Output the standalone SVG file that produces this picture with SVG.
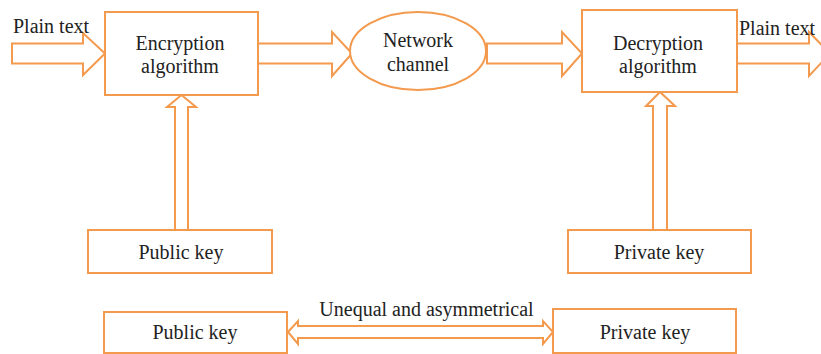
<svg xmlns="http://www.w3.org/2000/svg" width="821" height="354" viewBox="0 0 821 354">
<style>
.box{fill:#fff;stroke:#F39A4E;stroke-width:2}
.arr{fill:#fff;stroke:#F39A4E;stroke-width:2;stroke-linejoin:miter}
.t{font-family:"Liberation Serif","Times New Roman",serif;font-size:20px;fill:#222}
.m{text-anchor:middle}
</style>
<rect width="821" height="354" fill="#fff"/>
<g id="connectors">
<polygon class="arr" points="12,43.5 83,43.5 83,33 105,53.5 83,75 83,63.5 12,63.5"/>
<polygon class="arr" points="258,43.5 332,43.5 332,32 352,53.5 332,76 332,63.5 258,63.5"/>
<polygon class="arr" points="487,43.5 562,43.5 562,32 582,53.5 562,76 562,63.5 487,63.5"/>
<polygon class="arr" points="737,43.5 809,43.5 809,32 830,53.5 809,76 809,63.5 737,63.5"/>
<polygon class="arr" points="175,230 175,107 167,107 181.5,95 196,107 188,107 188,230"/>
<polygon class="arr" points="653,230 653,106 646,106 660,92 675,106 667,106 667,230"/>
<polygon class="arr" points="288,332 298,321 298,326 543,326 543,321 553,332 543,344 543,338 298,338 298,344"/>
<text class="t" x="13" y="33">Plain text</text>
<text class="t" x="739" y="35">Plain text</text>
<text class="t m" x="426.5" y="316">Unequal and asymmetrical</text>
</g>
<g id="encryption">
<rect class="box" x="105" y="12" width="153" height="83"/>
<text class="t m" x="180" y="50">Encryption</text>
<text class="t m" x="180" y="73">algorithm</text>
</g>
<g id="network">
<ellipse class="box" cx="418" cy="51" rx="68" ry="39"/>
<text class="t m" x="418" y="47">Network</text>
<text class="t m" x="418" y="71">channel</text>
</g>
<g id="decryption">
<rect class="box" x="582" y="10" width="155" height="82"/>
<text class="t m" x="658" y="50">Decryption</text>
<text class="t m" x="658" y="73">algorithm</text>
</g>
<g id="publickey1">
<rect class="box" x="88" y="230" width="184" height="43"/>
<text class="t m" x="181" y="259">Public key</text>
</g>
<g id="privatekey1">
<rect class="box" x="568" y="230" width="183" height="43"/>
<text class="t m" x="659" y="259">Private key</text>
</g>
<g id="publickey2">
<rect class="box" x="104" y="312" width="183" height="41"/>
<text class="t m" x="195" y="339">Public key</text>
</g>
<g id="privatekey2">
<rect class="box" x="553" y="309" width="183" height="44"/>
<text class="t m" x="645" y="339">Private key</text>
</g>
</svg>
